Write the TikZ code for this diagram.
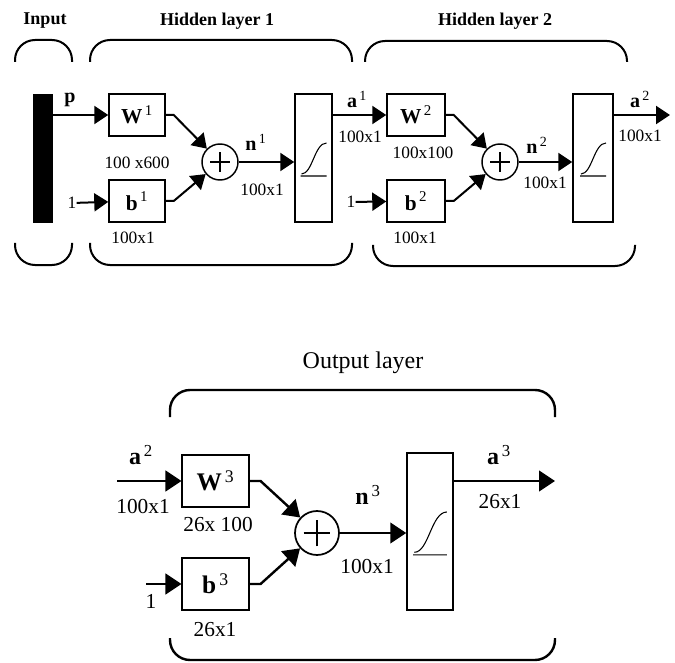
\documentclass[tikz,border=0pt]{standalone}
\usepackage{fontspec}
\setmainfont{Liberation Serif}
\usetikzlibrary{arrows.meta}
\usetikzlibrary{positioning}

\newcommand{\sigmoid}[2]{%
  \draw[line width=0.8pt, shift={(#1.center)}, scale=#2] (-13,18) -- (13,18)
    (-12,16) .. controls (-1,16) and (1,-15) .. (13,-15);}
\newcommand{\sym}[2]{\textbf{#1}\textsuperscript{\,#2}}
\newcommand{\plusarms}[1]{%
  \draw[line width=1.3pt] ([xshift=-#1]path picture bounding box.center) -- ([xshift=#1]path picture bounding box.center)
    ([yshift=-#1]path picture bounding box.center) -- ([yshift=#1]path picture bounding box.center);}

\begin{document}
\begin{tikzpicture}[x=0.75pt,y=-0.75pt]
	 \tikzstyle{box}=[draw,line width=1.1pt,minimum width=42pt,minimum height=31.5pt,inner sep=0pt,font=\fontsize{16}{18}\selectfont]
	 \tikzstyle{bigbox}=[box,minimum width=50pt,minimum height=39pt,font=\fontsize{19}{21}\selectfont]
	 \tikzstyle{sum}=[circle,draw,line width=1.1pt,minimum size=27pt,inner sep=0pt,path picture={\plusarms{7.5pt}}]
	 \tikzstyle{bigsum}=[circle,draw,line width=1.3pt,minimum size=33pt,inner sep=0pt,path picture={\plusarms{10pt}}]
	 \tikzstyle{transfer}=[draw,line width=1.1pt,inner sep=0pt]
	 \tikzstyle{dim}=[font=\fontsize{13}{15}\selectfont,inner sep=0pt]
	 \tikzstyle{bigdim}=[font=\fontsize{16}{18}\selectfont,inner sep=0pt]
	 \tikzstyle{sig}=[font=\fontsize{15}{17}\selectfont,inner sep=0pt]
	 \tikzstyle{bigsig}=[font=\fontsize{18}{20}\selectfont,inner sep=0pt]
	 \tikzstyle{title}=[font=\bfseries\fontsize{13.5}{16}\selectfont,inner sep=0pt]
	 \tikzstyle{brace}=[line width=1.5pt,rounded corners=15pt]
	 \tikzstyle{edge}=[draw,line width=1.5pt,-{Triangle[length=10.5pt,width=13.5pt]}]
	 \tikzstyle{bigedge}=[draw,line width=1.8pt,-{Triangle[length=12pt,width=15.5pt]}]
	 \useasboundingbox (0,0) rectangle (675,663);

	 % top row: input and the two hidden layers
	 \node[title] (tin) at (45,21) {Input};
	 \node[title] (th1) at (217,21) {Hidden layer 1};
	 \node[title] (th2) at (495,21) {Hidden layer 2};

	 \draw[brace] (15,62) -- (15,40) -- (72,40) -- (72,62);
	 \draw[brace] (15,243) -- (15,265) -- (72,265) -- (72,243);
	 \draw[brace] (90,62) -- (90,40) -- (352,40) -- (352,62);
	 \draw[brace] (90,243) -- (90,265) -- (352,265) -- (352,243);
	 \draw[brace] (365,62) -- (365,41) -- (627,41) -- (627,62);
	 \draw[brace] (373,245) -- (373,266) -- (635,266) -- (635,245);

	 \node[fill=black,minimum width=15pt,minimum height=97pt,inner sep=0pt] (bar) at (43,158.5) {};
	 \node[box] (w1) at (137,115) {\sym{W}{1}};
	 \node[box] (b1) at (137,201) {\sym{b}{1}};
	 \node[sum] (s1) at (220,162) {};
	 \node[transfer,minimum width=27.75pt,minimum height=96pt] (t1) at (313.5,158) {};
	 \node[box,minimum width=43.5pt] (w2) at (416,115) {\sym{W}{2}};
	 \node[box,minimum width=43.5pt] (b2) at (416,201) {\sym{b}{2}};
	 \node[sum] (s2) at (500,162) {};
	 \node[transfer,minimum width=30pt,minimum height=96pt] (t2) at (593,158) {};
	 \coordinate (out2) at (670,115);
	 \sigmoid{t1}{1}
	 \sigmoid{t2}{1}

	 \node[sig] (lp) at (70,100) {\textbf{p}};
	 \node[dim] (one1) at (72,203) {1};
	 \node[dim] (dw1) at (137,163) {100 x600};
	 \node[dim] (db1) at (133,238) {100x1};
	 \node[sig] (ln1) at (256,142) {\sym{n}{1}};
	 \node[dim] (dn1) at (262,190) {100x1};
	 \node[sig] (la1) at (357,99) {\sym{a}{1}};
	 \node[dim] (da1) at (360,137) {100x1};
	 \node[dim] (one2) at (351,202) {1};
	 \node[dim] (dw2) at (423,153) {100x100};
	 \node[dim] (db2) at (415,238) {100x1};
	 \node[sig] (ln2) at (537,145) {\sym{n}{2}};
	 \node[dim] (dn2) at (545,183) {100x1};
	 \node[sig] (la2) at (640,99) {\sym{a}{2}};
	 \node[dim] (da2) at (640,136) {100x1};

	 \draw[edge] (bar.east |- w1) -- (w1);
	 \draw[edge] (one1) -- (b1);
	 \draw[edge] (w1.east) -- ++(8,0) -- (s1);
	 \draw[edge] (b1.east) -- ++(8,0) -- (s1);
	 \draw[edge] (s1) -- (s1 -| t1.west);
	 \draw[edge] (t1.east |- w2) -- (w2);
	 \draw[edge] (one2) -- (b2);
	 \draw[edge] (w2.east) -- ++(8,0) -- (s2);
	 \draw[edge] (b2.east) -- ++(8,0) -- (s2);
	 \draw[edge] (s2) -- (s2 -| t2.west);
	 \draw[edge] (t2.east |- w2) -- (out2);

	 % bottom row: output layer
	 \node[font=\fontsize{18}{20}\selectfont,inner sep=0pt] (tout) at (363,363) {Output layer};
	 \draw[brace,line width=1.8pt] (170,417) -- (170,390) -- (555,390) -- (555,417);
	 \draw[brace,line width=1.8pt] (170,638) -- (170,660) -- (555,660) -- (555,638);

	 \coordinate (in3) at (117,481);
	 \coordinate (one3) at (146,584);
	 \node[bigbox] (w3) at (215.5,481) {\sym{W}{3}};
	 \node[bigbox] (b3) at (215.5,584) {\sym{b}{3}};
	 \node[bigsum] (s3) at (317,533) {};
	 \node[transfer,minimum width=34.5pt,minimum height=118pt] (t3) at (430,531.5) {};
	 \coordinate (out3) at (555,481);
	 \sigmoid{t3}{1.3}

	 \node[bigsig] (la2b) at (141,455) {\sym{a}{2}};
	 \node[bigdim] (din3) at (143,507) {100x1};
	 \node[bigdim] (dw3) at (218,525) {26x 100};
	 \node[bigdim] (lone3) at (151,601) {1};
	 \node[bigdim] (db3) at (215,630) {26x1};
	 \node[bigsig] (ln3) at (368,495) {\sym{n}{3}};
	 \node[bigdim] (dn3) at (367,567) {100x1};
	 \node[bigsig] (la3) at (499,455) {\sym{a}{3}};
	 \node[bigdim] (da3) at (500,502) {26x1};

	 \draw[bigedge] (in3) -- (w3);
	 \draw[bigedge] (one3) -- (b3);
	 \draw[bigedge] (w3.east) -- ++(11,0) -- (s3);
	 \draw[bigedge] (b3.east) -- ++(11,0) -- (s3);
	 \draw[bigedge] (s3) -- (s3 -| t3.west);
	 \draw[bigedge] (t3.east |- w3) -- (out3);
\end{tikzpicture}
\end{document}
